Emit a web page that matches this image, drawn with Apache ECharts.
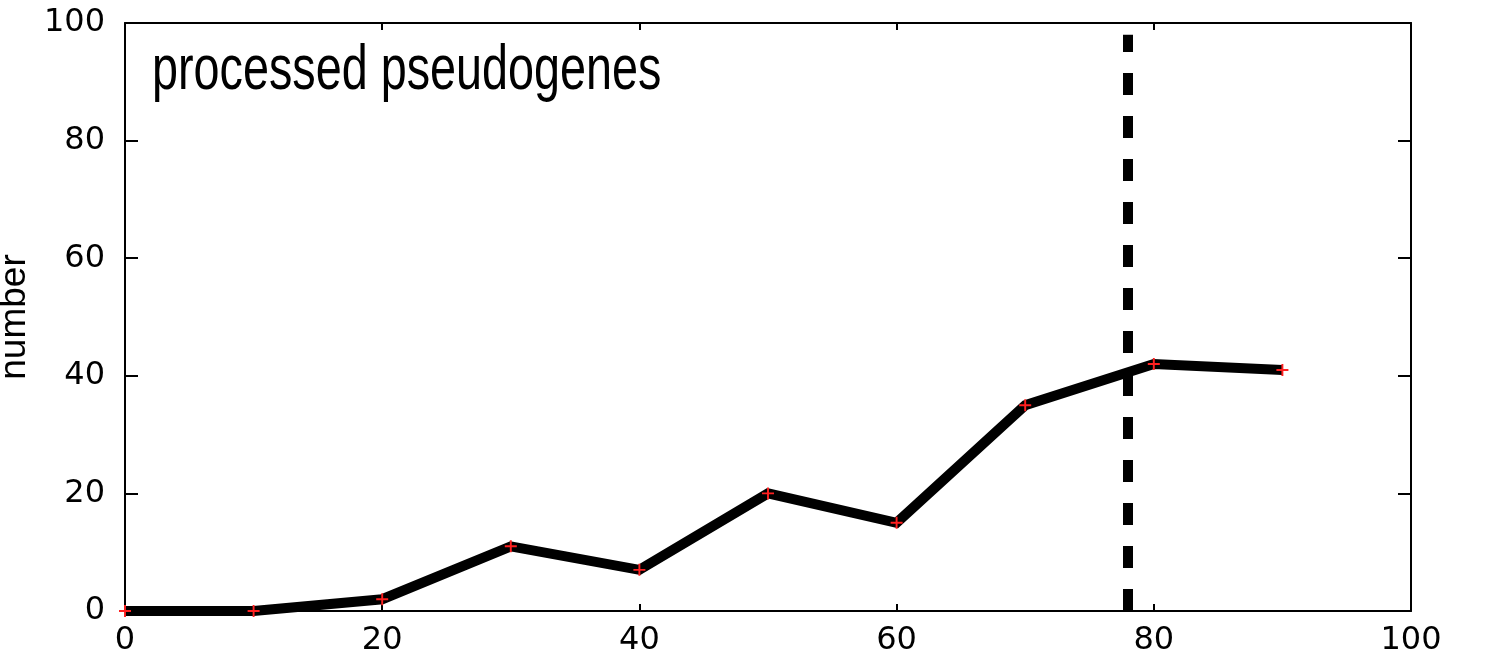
<!DOCTYPE html>
<html>
<head>
<meta charset="utf-8">
<script src="https://cdn.jsdelivr.net/npm/echarts@6/dist/echarts.min.js"></script>
<style>
  html, body { margin: 0; padding: 0; background: #fff; }
  #chart { width: 1489px; height: 659px; }
</style>
</head>
<body>
<div id="chart"></div>
<script>
// data
const xValues = [0, 10, 20, 30, 40, 50, 60, 70, 80, 90]
const counts = [0, 0, 2, 11, 7, 20, 15, 35, 42, 41]
const cutoff = 78
const cutoffTop = 98
const title = 'processed pseudogenes'

const tickFont = { fontFamily: 'DejaVu Sans', fontSize: 32, color: '#000' }
const plus = 'path://M0,4.2H10V5.8H0Z M4.2,0H5.8V10H4.2Z'

const chart = echarts.init(document.getElementById('chart'))

// box round the plot, gnuplot style: mirrored axes with inward ticks
const frame = { show: true, onZero: false, lineStyle: { color: '#000', width: 2 } }
const xTick = { show: true, inside: true, length: 7, lineStyle: { color: '#000', width: 2 } }
const yTick = { show: true, inside: true, length: 13, lineStyle: { color: '#000', width: 2 } }

chart.setOption({
  animation: false,
  grid: { left: 125, right: 78, top: 23, bottom: 48, outerBoundsMode: 'none', containLabel: false },
  graphic: [
    {
      type: 'text',
      left: 152,
      top: 40,
      scaleX: 0.82,
      scaleY: 1.1,
      style: {
        text: title,
        fontFamily: 'Liberation Sans',
        fontSize: 57,
        fill: '#000'
      }
    }
  ],
  xAxis: [
    {
      type: 'value', min: 0, max: 100, interval: 20, position: 'bottom',
      axisLine: frame, axisTick: xTick,
      axisLabel: { ...tickFont, margin: 14 },
      splitLine: { show: false }
    },
    {
      type: 'value', min: 0, max: 100, interval: 20, position: 'top',
      axisLine: frame, axisTick: xTick,
      axisLabel: { show: false },
      splitLine: { show: false }
    }
  ],
  yAxis: [
    {
      type: 'value', min: 0, max: 100, interval: 20, position: 'left',
      name: 'number', nameLocation: 'middle', nameGap: 85, nameRotate: 90,
      nameTextStyle: { fontFamily: 'Liberation Sans', fontSize: 37, color: '#000' },
      axisLine: frame, axisTick: yTick,
      axisLabel: { ...tickFont, margin: 20 },
      splitLine: { show: false }
    },
    {
      type: 'value', min: 0, max: 100, interval: 20, position: 'right',
      axisLine: frame, axisTick: yTick,
      axisLabel: { show: false },
      splitLine: { show: false }
    }
  ],
  series: [
    {
      type: 'line',
      xAxisIndex: 0,
      yAxisIndex: 0,
      data: xValues.map((x, i) => [x, counts[i]]),
      lineStyle: { color: '#000', width: 10, join: 'miter' },
      symbol: plus,
      symbolSize: 12,
      showAllSymbol: true,
      itemStyle: { color: '#ff2020' },
      z: 3,
      markLine: {
        silent: true,
        symbol: 'none',
        label: { show: false },
        lineStyle: { color: '#000', width: 10, type: [22, 21], cap: 'butt' },
        data: [[{ coord: [cutoff, 0] }, { coord: [cutoff, cutoffTop] }]]
      }
    }
  ]
})
</script>
</body>
</html>
